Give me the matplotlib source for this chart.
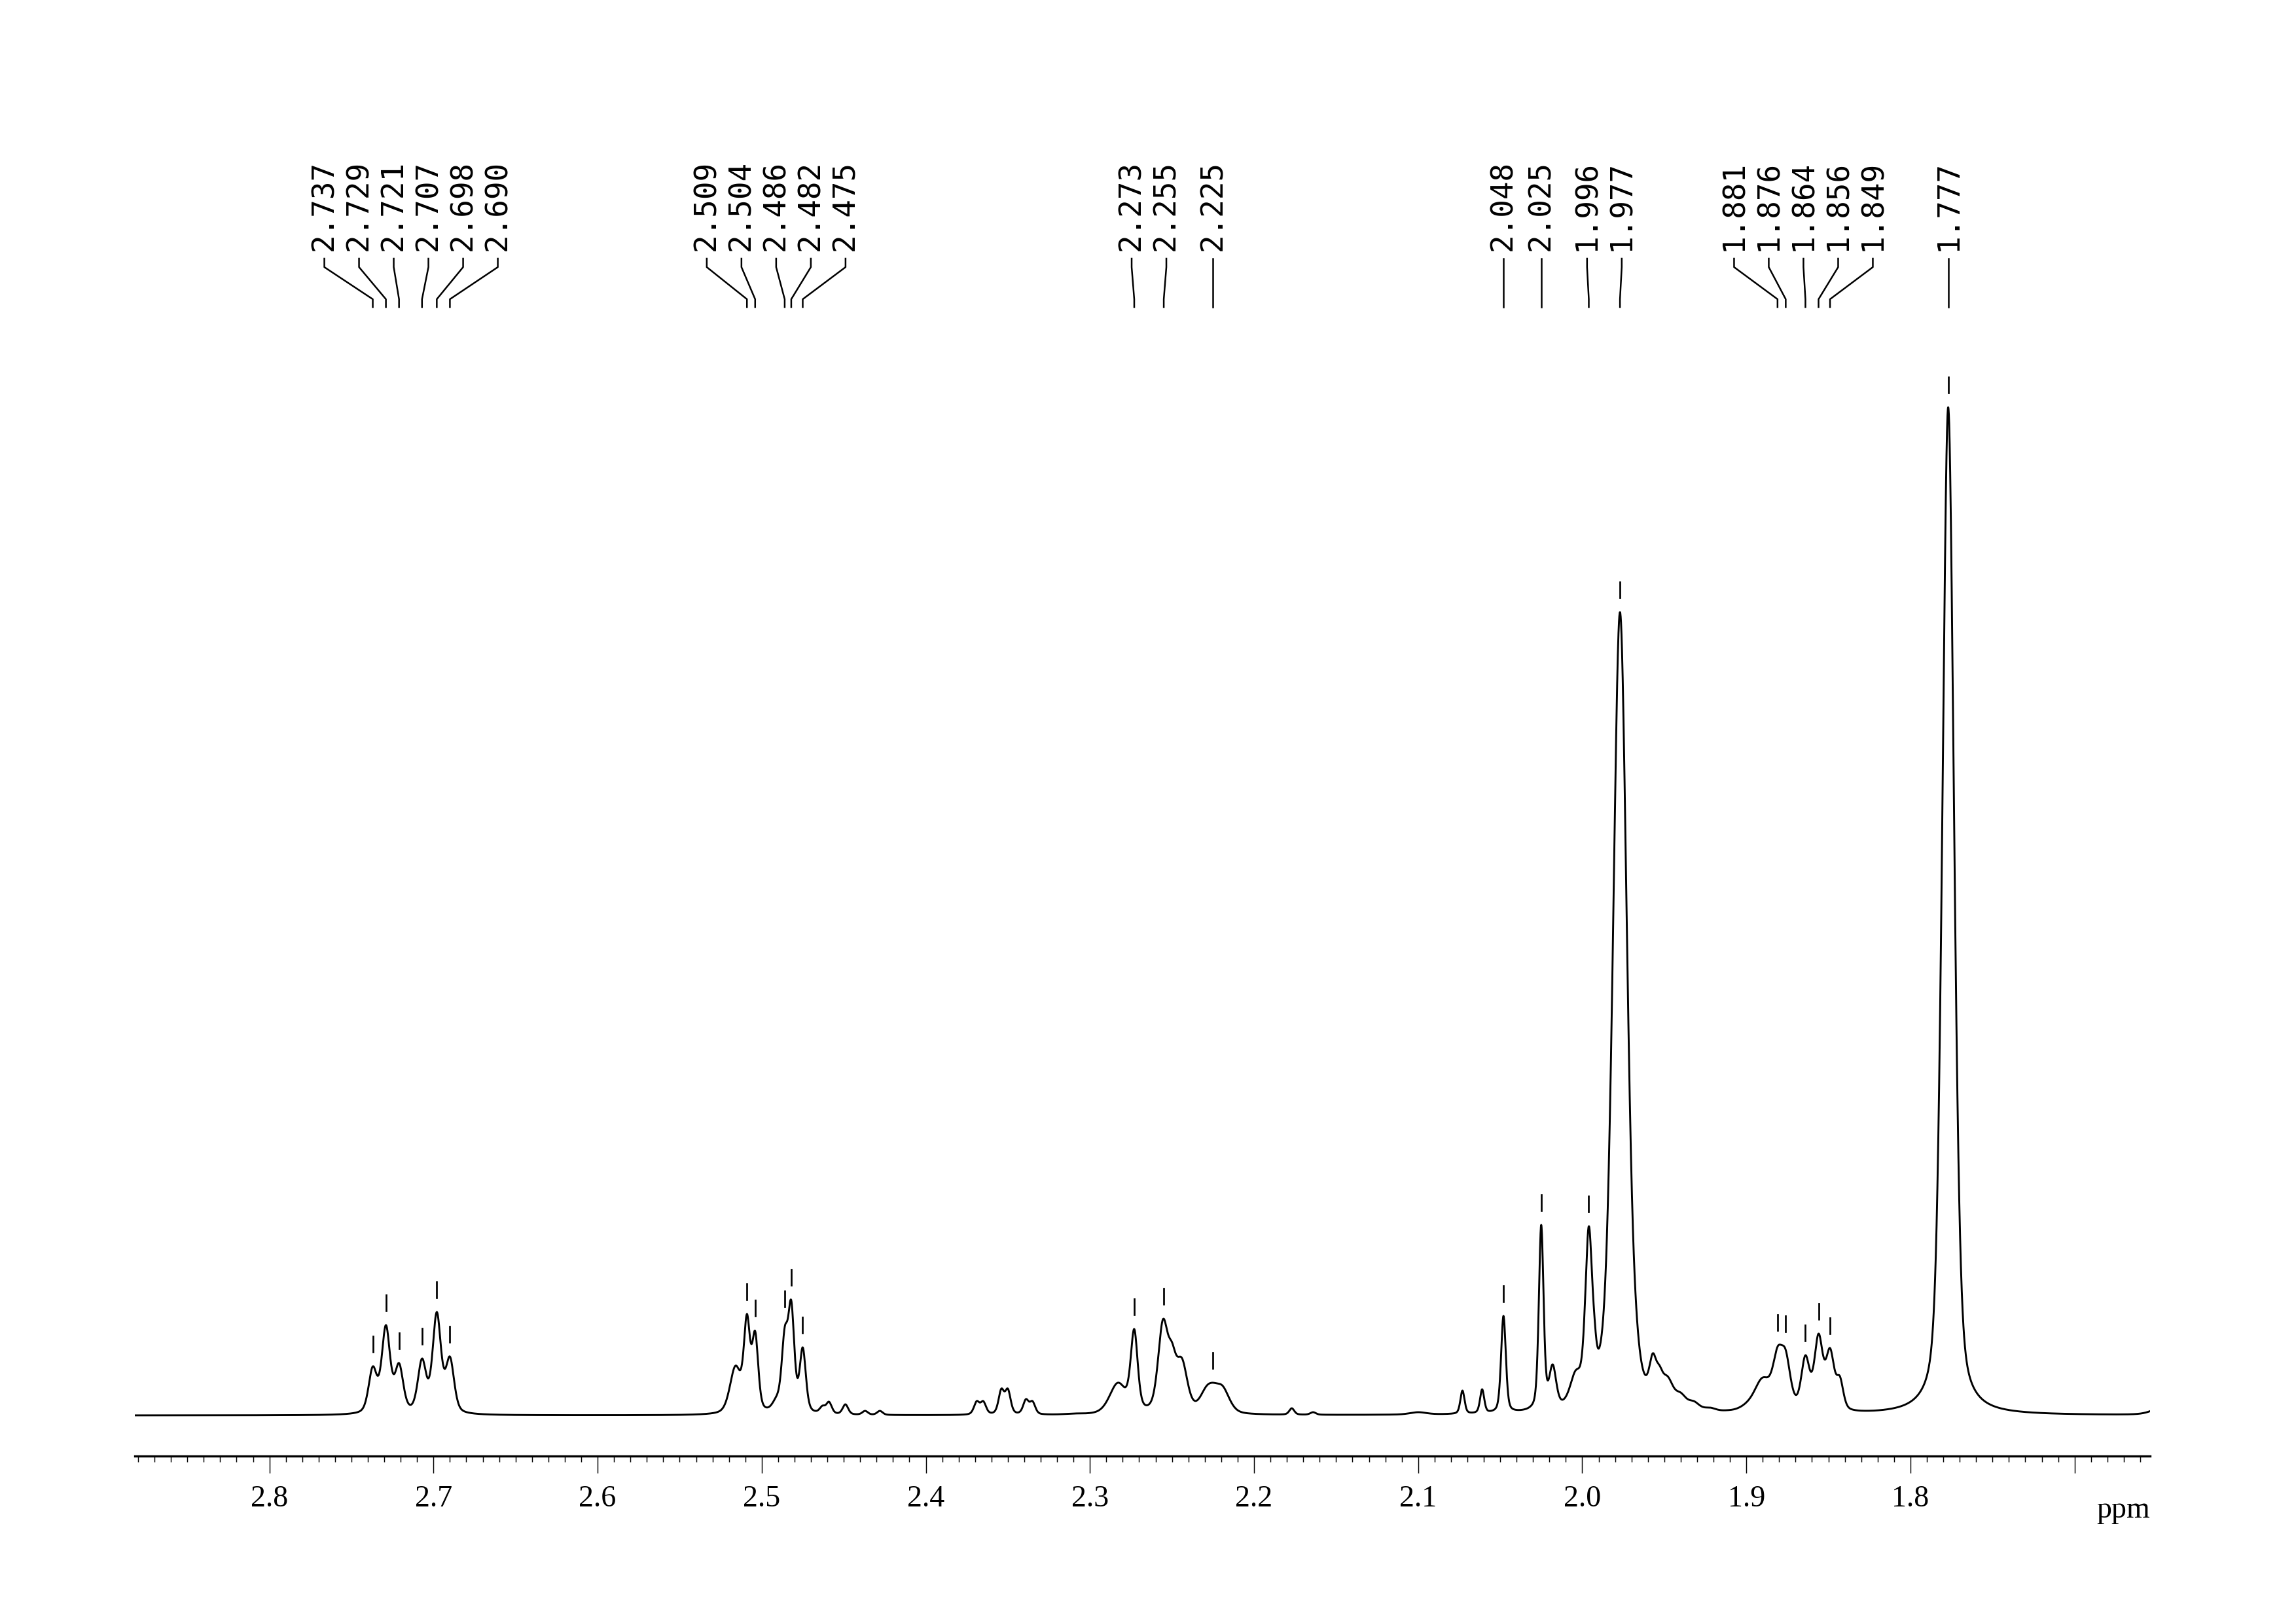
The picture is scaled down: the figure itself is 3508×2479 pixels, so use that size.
import numpy as np
import matplotlib
matplotlib.use('Agg')
import matplotlib.pyplot as plt

# lines: position (ppm), apparent height, half width (ppm)
peak_ppm = [2.737, 2.729, 2.721, 2.707, 2.698, 2.690,
            2.516, 2.509, 2.504, 2.491, 2.486, 2.482, 2.475,
            2.463, 2.459, 2.449, 2.437, 2.428,
            2.369, 2.365, 2.354, 2.350, 2.339, 2.335, 2.310,
            2.283, 2.273, 2.2555, 2.250, 2.244, 2.229, 2.225, 2.219,
            2.177, 2.164, 2.100,
            2.073, 2.061, 2.048, 2.025, 2.018, 2.004, 1.996, 1.9925, 1.990,
            1.977, 1.967, 1.957, 1.953, 1.948, 1.940, 1.932, 1.922, 1.912,
            1.900, 1.890, 1.881, 1.876, 1.864, 1.856, 1.849, 1.843,
            1.777, 1.755, 1.745, 1.645]
peak_height = [75, 138, 80, 87, 158, 90,
               76, 155, 129, 30, 135, 176, 104,
               15, 21, 17, 7, 7,
               22, 22, 41, 41, 25, 22, 3,
               50, 132, 147, 112, 88, 45, 50, 45,
               11, 5, 5,
               38, 40, 152, 291, 78, 69, 289, 149, 102,
               1227, 162, 95, 77, 60, 35, 22, 12, 8,
               20, 58, 105, 100, 92, 125, 103, 60,
               1540, 20, 5, 14]
peak_hwhm = [0.003, 0.003, 0.003, 0.003, 0.003, 0.003,
             0.004, 0.0022, 0.0022, 0.003, 0.0022, 0.0022, 0.0022,
             0.002, 0.002, 0.002, 0.002, 0.002,
             0.002, 0.002, 0.002, 0.002, 0.002, 0.002, 0.006,
             0.006, 0.0025, 0.0035, 0.003, 0.004, 0.005, 0.005, 0.005,
             0.0018, 0.002, 0.006,
             0.0015, 0.0015, 0.0017, 0.0017, 0.0025, 0.004, 0.0025, 0.0015, 0.003,
             0.005, 0.003, 0.0025, 0.0025, 0.004, 0.004, 0.004, 0.004, 0.004,
             0.006, 0.006, 0.0035, 0.0035, 0.003, 0.003, 0.003, 0.0025,
             0.0042, 0.002, 0.002, 0.008]

# picked peaks that carry a label
label_ppm = [2.737, 2.729, 2.721, 2.707, 2.698, 2.690,
             2.509, 2.504, 2.486, 2.482, 2.475,
             2.273, 2.255, 2.225,
             2.048, 2.025, 1.996, 1.977,
             1.881, 1.876, 1.864, 1.856, 1.849,
             1.777]

major_ticks = [2.8, 2.7, 2.6, 2.5, 2.4, 2.3, 2.2, 2.1, 2.0, 1.9, 1.8, 1.7]
tick_labels = ['2.8', '2.7', '2.6', '2.5', '2.4', '2.3', '2.2', '2.1', '2.0', '1.9', '1.8', '']


def line_shape(x, x0, hw, eta=0.4):
    u = ((x - x0) / hw) ** 2
    return eta / (1.0 + u) + (1.0 - eta) * np.exp(-np.log(2.0) * u)


def solve_amplitudes(pos, height, hw):
    # amplitudes so that the summed lines reach the read heights (non negative)
    M = np.array([[line_shape(p, q, w) for q, w in zip(pos, hw)] for p in pos])
    active = list(range(len(pos)))
    amps = np.zeros(len(pos))
    while True:
        sol = np.linalg.lstsq(M[:, active], np.array(height, float), rcond=None)[0]
        if sol.min() >= 0:
            break
        active.pop(int(np.argmin(sol)))
    amps[active] = sol
    return amps


def spectrum(x, pos, amps, hw):
    y = np.zeros_like(x)
    for p, a, w in zip(pos, amps, hw):
        y += a * line_shape(x, p, w)
    return y


def spread_labels(positions, gap):
    # positions in descending ppm; push labels apart, each group centred on its peaks
    clusters = [[p] for p in positions]
    merged = True
    while merged:
        merged = False
        for i in range(len(clusters) - 1):
            a, b = clusters[i], clusters[i + 1]
            a_end = np.mean(a) - (len(a) - 1) / 2.0 * gap
            b_start = np.mean(b) + (len(b) - 1) / 2.0 * gap
            if a_end - b_start < gap:
                clusters[i] = a + b
                del clusters[i + 1]
                merged = True
                break
    out = []
    for c in clusters:
        m = np.mean(c)
        n = len(c)
        out += [m + ((n - 1) / 2.0 - k) * gap for k in range(n)]
    return out


xlo, xhi = 2.882, 1.654
x = np.linspace(xlo, xhi, 12000)
amps = solve_amplitudes(peak_ppm, peak_height, peak_hwhm)
y = spectrum(x, peak_ppm, amps, peak_hwhm)

fig = plt.figure(figsize=(3508 / 300.0, 2479 / 300.0), dpi=300)
ax = fig.add_axes([206 / 3508.0, 255 / 2479.0, 3079 / 3508.0, 2024 / 2479.0])
ax.plot(x, y, color='black', linewidth=0.7)
ax.set_xlim(xlo, xhi)
ax.set_ylim(-62, 1962)

for s in ['left', 'right', 'top']:
    ax.spines[s].set_visible(False)
ax.spines['bottom'].set_linewidth(0.8)
ax.set_yticks([])
ax.set_xticks(major_ticks)
ax.set_xticklabels(tick_labels, fontfamily='Liberation Serif', fontsize=11)
ax.set_xticks(np.arange(1.66, 2.8805, 0.01), minor=True)
ax.tick_params(axis='x', which='major', length=6.2, width=0.35, pad=4.5)
ax.tick_params(axis='x', which='minor', length=2.2, width=0.35)
ax.text(1.0, -0.0305, 'ppm', transform=ax.transAxes, ha='right', va='top',
        fontfamily='Liberation Serif', fontsize=11)

# peak picks: short bar over each peak, label at top joined by a bent line
lab_x = spread_labels(label_ppm, 53 / 2507.0)
for p, lx in zip(label_ppm, lab_x):
    near = np.abs(x - p) < 0.0015
    top = y[near].max()
    ax.plot([p, p], [top + 22, top + 46], color='black', linewidth=0.65)
    ax.plot([lx, lx, p, p], [1767, 1754, 1705, 1693], color='black',
            linewidth=0.6, clip_on=False)
    ax.text(lx, 1779, '%.3f' % p, rotation=90, ha='center', va='bottom',
            fontfamily='DejaVu Sans Mono', fontsize=11, clip_on=False)

fig.savefig('out.png', dpi=300)
